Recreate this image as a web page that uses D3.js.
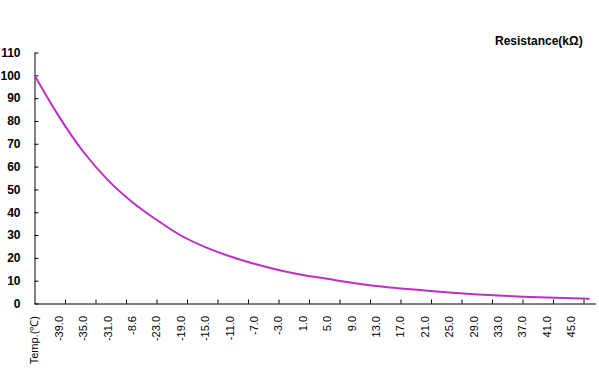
<!DOCTYPE html>
<html>
<head>
<meta charset="utf-8">
<script src="https://cdn.jsdelivr.net/npm/d3@7"></script>
<style>
	body { margin: 0; background: #fff; }
	svg { display: block; }
	text { font-family: "Liberation Sans", Arial, sans-serif; }
</style>
</head>
<body>
<div id="chart"></div>
<script>
// category labels shown on the axis (every 4th category)
var tempLabels = ["Temp.(℃)", "-39.0", "-35.0", "-31.0", "-8.6", "-23.0", "-19.0", "-15.0",
	"-11.0", "-7.0", "-3.0", "1.0", "5.0", "9.0", "13.0", "17.0", "21.0", "25.0",
	"29.0", "33.0", "37.0", "41.0", "45.0"];
var labelCategory = [0, 4, 8, 12, 16, 20, 24, 28, 32, 36, 40, 44, 48, 52, 56, 60, 64, 68, 72, 76, 80, 84, 88];

// resistance, at these categories
var pointCategory = [0, 4, 8, 12, 16, 20, 24, 28, 32, 36, 40, 44, 48, 52, 56, 60, 64, 68, 72, 76, 80, 84, 88, 91];
var resistance = [100, 82, 66.5, 54.2, 44.5, 36.7, 29.8, 24.7, 20.7, 17.4, 14.7, 12.5, 10.8, 9.1,
	7.7, 6.6, 5.7, 4.8, 4.1, 3.5, 3.0, 2.6, 2.3, 2.1];

var categoryCount = 92;
var yTicks = d3.range(0, 111, 10);

(function () {
	var w = 599;
	var h = 371;

	var x = d3.scaleLinear().domain([0, categoryCount]).range([34.5, 34.5 + categoryCount * 6.1]);
	var y = d3.scaleLinear().domain([0, 110]).range([303.5, 52.5]);

	var svg = d3.select('#chart')
		.append('svg')
		.attr('width', w)
		.attr('height', h);

	// y axis
	var yAxis = d3.axisLeft(y)
		.tickValues(yTicks)
		.tickSizeInner(-4)
		.tickSizeOuter(0)
		.tickPadding(14);
	var gy = svg.append('g')
		.attr('transform', 'translate(' + x(0) + ',0)')
		.call(yAxis);
	gy.select('.domain').attr('stroke', '#000');
	gy.selectAll('.tick line').attr('stroke', '#000');
	gy.selectAll('.tick text')
		.attr('fill', '#000')
		.attr('font-size', '12px')
		.attr('font-weight', 'bold')
		.attr('font-family', '"Liberation Sans", Arial, sans-serif');

	// x axis: ticks every 5 categories, labels every 4
	var xAxis = d3.axisBottom(x)
		.tickValues(d3.range(5, categoryCount, 5))
		.tickSizeInner(-4)
		.tickSizeOuter(0)
		.tickFormat('');
	var gx = svg.append('g')
		.attr('transform', 'translate(0,' + y(0) + ')')
		.call(xAxis);
	gx.select('.domain').attr('stroke', '#000');
	gx.selectAll('.tick line').attr('stroke', '#000');

	svg.append('g')
		.selectAll('text')
		.data(tempLabels)
		.enter()
		.append('text')
		.text(function (d) { return d; })
		.attr('transform', function (d, i) {
			return 'translate(' + x(labelCategory[i]) + ',316) rotate(-90)';
		})
		.attr('text-anchor', 'end')
		.attr('dy', '.35em')
		.attr('font-size', '11px')
		.attr('fill', '#000');

	// curve
	var lineFn = d3.line()
		.x(function (d, i) { return x(pointCategory[i]); })
		.y(function (d) { return y(d); })
		.curve(d3.curveMonotoneX);

	svg.append('path')
		.attr('d', lineFn(resistance))
		.attr('stroke', '#bb30c0')
		.attr('stroke-width', 2)
		.attr('fill', 'none');

	// title
	svg.append('text')
		.text('Resistance(kΩ)')
		.attr('x', 495)
		.attr('y', 45)
		.attr('font-size', '12px')
		.attr('font-weight', 'bold')
		.attr('fill', '#000');
})();
</script>
</body>
</html>
